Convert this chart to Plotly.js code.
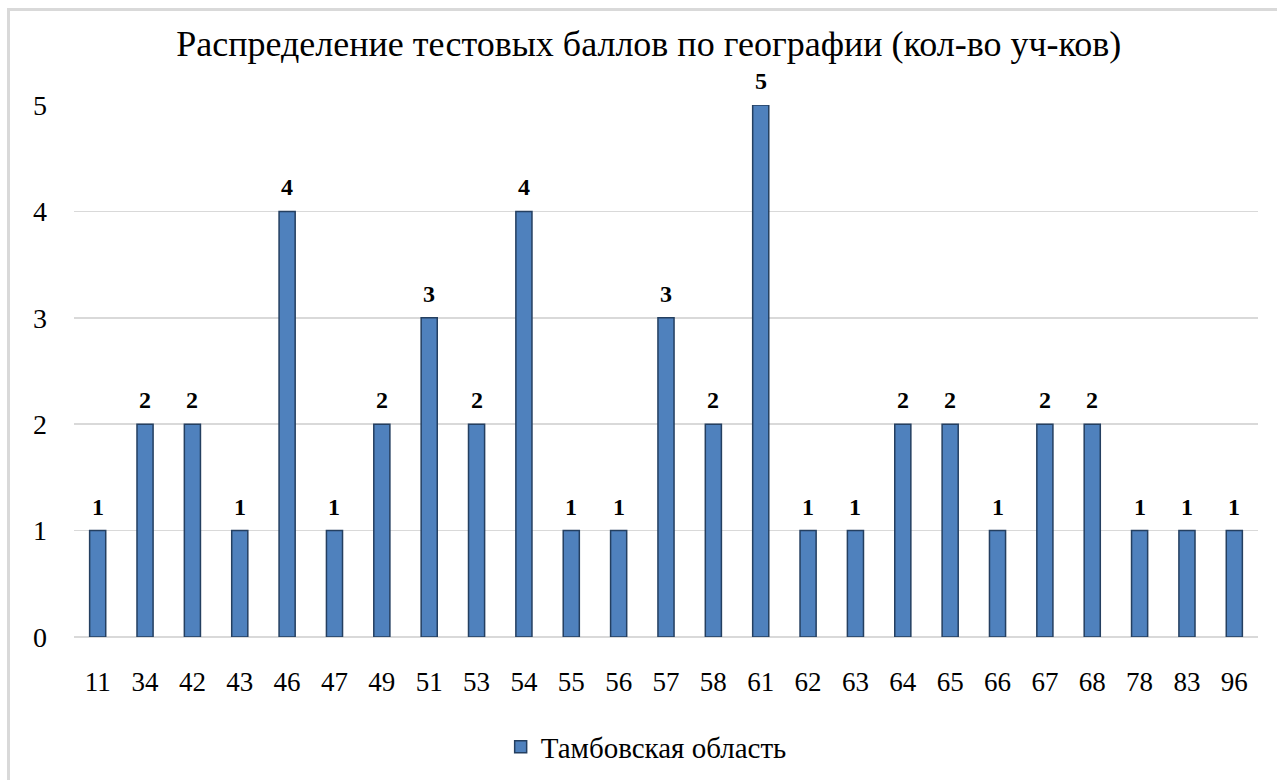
<!DOCTYPE html>
<html>
<head>
<meta charset="utf-8">
<script src="https://cdn.plot.ly/plotly-3.0.1.min.js"></script>
<style>
html,body{margin:0;padding:0;background:#fff;overflow:hidden;}
#frame{position:absolute;left:7px;top:8px;width:1400px;height:900px;border-top:3px solid #d9d9d9;border-left:3px solid #d9d9d9;pointer-events:none;z-index:5;}
#chart{position:absolute;left:0;top:0;width:1277px;height:780px;}
</style>
</head>
<body>
<div id="chart"></div>
<div id="frame"></div>
<script>
const categories = ["11","34","42","43","46","47","49","51","53","54","55","56","57","58","61","62","63","64","65","66","67","68","78","83","96"];
const values = [1,2,2,1,4,1,2,3,2,4,1,1,3,2,5,1,1,2,2,1,2,2,1,1,1];
const seriesName = "Тамбовская область";
const titleText = "Распределение тестовых баллов по географии (кол-во уч-ков)";
const yTicks = [0,1,2,3,4,5];

const serif = "Liberation Serif, serif";

const trace = {
  type: 'bar',
  x: categories,
  y: values,
  name: seriesName,
  marker: {color: '#4f81bd', line: {color: '#243f60', width: 1.5}},
  hoverinfo: 'x+y'
};

const annotations = categories.map((c, i) => ({
  x: i, y: values[i], xref: 'x', yref: 'y',
  text: '<b>' + values[i] + '</b>', showarrow: false,
  yshift: 24, font: {family: serif, size: 24, color: '#000'}
}));

const layout = {
  width: 1277, height: 780,
  margin: {l: 74, r: 19, t: 105, b: 143},
  paper_bgcolor: '#fff', plot_bgcolor: '#fff',
  title: {text: titleText, font: {family: serif, size: 36, color: '#000'}, x: 0.508, xanchor: 'center', y: 1 - 43/780, yanchor: 'middle', yref: 'container', xref: 'container'},
  bargap: 0.66,
  showlegend: true,
  legend: {orientation: 'h', x: 0.506, xanchor: 'center', y: 1 - 747/780, yanchor: 'middle', yref: 'container', xref: 'container', font: {family: serif, size: 29, color: '#000'}},
  xaxis: {type: 'category', range: [-0.5, categories.length - 0.5], tickfont: {family: serif, size: 27, color: '#000'}, showgrid: false, zeroline: false, showline: false, ticks: '', ticklabelstandoff: 26},
  yaxis: {range: [0, 5], tickvals: yTicks, tickfont: {family: serif, size: 28, color: '#000'}, showgrid: true, gridcolor: '#d9d9d9', gridwidth: 1.5, zeroline: true, zerolinecolor: '#d9d9d9', zerolinewidth: 1.5, showline: false, ticks: '', ticklabelstandoff: 26},
  annotations: annotations
};

Plotly.newPlot('chart', [trace], layout, {displayModeBar: false, staticPlot: true});
</script>
</body>
</html>
